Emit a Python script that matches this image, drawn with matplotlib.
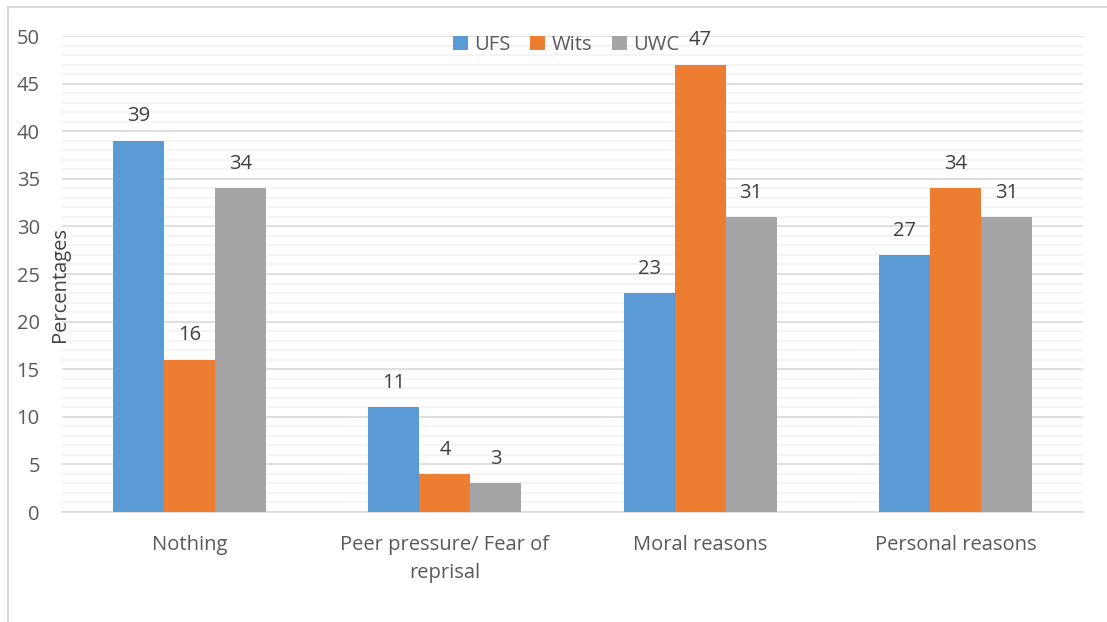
import matplotlib
matplotlib.use("Agg")
import matplotlib.pyplot as plt
import numpy as np
from matplotlib.patches import Rectangle

categories = ["Nothing", "Peer pressure/ Fear of\nreprisal", "Moral reasons", "Personal reasons"]
series_names = ["UFS", "Wits", "UWC"]
ufs = [39, 11, 23, 27]
wits = [16, 4, 47, 34]
uwc = [34, 3, 31, 31]
colors = ["#5B9BD5", "#ED7D31", "#A5A5A5"]
yticks = [0, 5, 10, 15, 20, 25, 30, 35, 40, 45, 50]

plt.rcParams['font.family'] = ['Open Sans', 'DejaVu Sans']
W, H = 1107, 622
fig = plt.figure(figsize=(W / 100, H / 100), dpi=100)
ax = fig.add_axes([62 / W, 1 - 512 / H, (1083 - 62) / W, (512 - 36) / H])

# figure border
fig.patches.append(Rectangle((8 / W, -0.01), 1.0, 1 - 7 / H + 0.01, transform=fig.transFigure,
                             fill=False, edgecolor="#D9D9D9", linewidth=1.5))

x = np.arange(len(categories))
bw = 0.2
for i, (vals, name, c) in enumerate(zip([ufs, wits, uwc], series_names, colors)):
    pos = x + (i - 1) * bw
    bars = ax.bar(pos, vals, width=bw, color=c, label=name, zorder=3)
    for b, v in zip(bars, vals):
        ax.annotate(str(v), (b.get_x() + b.get_width() / 2, v), xytext=(0, 17.5),
                    textcoords="offset points", ha="center", va="center",
                    fontsize=14.5, color="#404040")

ax.set_xlim(-0.5, len(categories) - 0.5)
ax.set_ylim(0, 50)
ax.set_yticks(yticks)
ax.set_yticks(np.arange(0, 51, 1), minor=True)
ax.grid(axis="y", which="major", color="#D9D9D9", linewidth=1.2, zorder=0)
ax.grid(axis="y", which="minor", color="#F2F2F2", linewidth=1.2, zorder=0)
ax.set_axisbelow(True)
for s in ["top", "right", "left"]:
    ax.spines[s].set_visible(False)
ax.spines["bottom"].set_color("#D9D9D9")
ax.spines["bottom"].set_linewidth(1.2)
ax.tick_params(axis="y", which="both", length=0, pad=16, labelsize=14.5, labelcolor="#595959")
ax.tick_params(axis="x", length=0, pad=16.5, labelsize=14.5, labelcolor="#595959")
ax.set_xticks(x)
ax.set_xticklabels(categories, linespacing=1.55)

fig.text(60 / W, 1 - 285 / H, "Percentages", rotation=90, ha="center", va="center",
         fontsize=14.5, color="#404040")

ax.legend(loc="center", bbox_to_anchor=((566 - 62) / 1021, (512 - 45) / 476), ncol=3,
          frameon=False, fontsize=14.5, handlelength=0.75, handleheight=0.75,
          handletextpad=0.3, columnspacing=1.0, labelcolor="#595959", borderpad=0)

fig.savefig("out.png", dpi=100)
